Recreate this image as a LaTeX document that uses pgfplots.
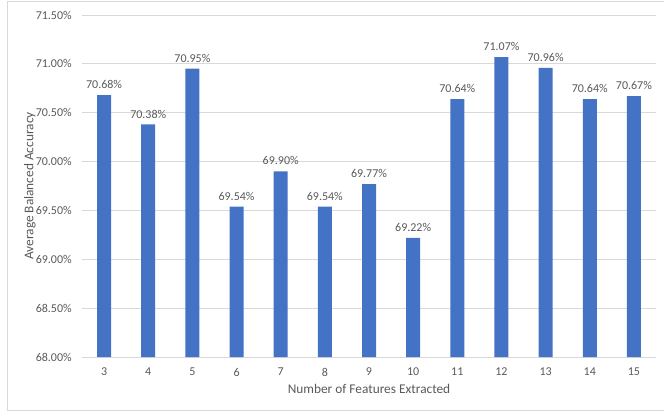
\documentclass[border=0pt]{standalone}
\usepackage{fontspec}
\setmainfont{Carlito}
\usepackage{pgfplots}
\pgfplotsset{compat=1.18}
\definecolor{barblue}{HTML}{4472C4}
\definecolor{txt}{HTML}{595959}
\definecolor{gridc}{HTML}{D9D9D9}
\begin{document}
\begin{tikzpicture}
\path[use as bounding box] (0,0) rectangle (498pt,309pt);
\draw[gridc, line width=0.75pt] (5.3pt,1.1pt) rectangle (499pt,307.9pt);
\begin{axis}[
  at={(61.5pt,41.25pt)}, anchor=south west,
  scale only axis, width=430.5pt, height=256.5pt,
  /pgf/number format/assume math mode=true,
  ybar, bar width=10.5pt,
  xmin=-0.5, xmax=12.5, ymin=68, ymax=71.5,
  xtick=data,
  xticklabels={3,4,5,6,7,8,9,10,11,12,13,14,15},
  ytick={68,68.5,69,69.5,70,70.5,71,71.5},
  yticklabel={\pgfmathprintnumber[fixed,zerofill,precision=2]{\tick}\%},
  ymajorgrids, grid style={gridc, line width=0.75pt},
  axis x line*=bottom, axis y line*=left,
  x axis line style={gridc, line width=0.75pt, -},
  y axis line style={draw=none},
  major tick length=0pt,
  tick label style={font=\fontsize{9}{10}\selectfont, text=txt},
  yticklabel style={anchor=east, inner sep=0pt, xshift=-7.5pt},
  xticklabel style={anchor=center, inner sep=0pt, yshift=-11.25pt},
  xlabel={Number of Features Extracted},
  ylabel={Average Balanced Accuracy},
  label style={font=\fontsize{10}{12}\selectfont, text=txt},
  xlabel style={at={(axis description cs:0.5,0)}, anchor=center, yshift=-24pt},
  ylabel style={at={(axis description cs:0,0.5)}, anchor=center, rotate=0, yshift=39pt, xshift=0pt},
  nodes near coords={\pgfmathprintnumber[fixed,zerofill,precision=2]{\pgfplotspointmeta}\%},
  nodes near coords style={font=\fontsize{9}{10}\selectfont, text=txt, anchor=south, inner sep=0pt, yshift=4.5pt},
  clip=false,
]
\addplot[fill=barblue, draw=none] coordinates {
(0,70.68) (1,70.38) (2,70.95) (3,69.54) (4,69.90) (5,69.54) (6,69.77)
(7,69.22) (8,70.64) (9,71.07) (10,70.96) (11,70.64) (12,70.67)};
\end{axis}
\end{tikzpicture}
\end{document}
